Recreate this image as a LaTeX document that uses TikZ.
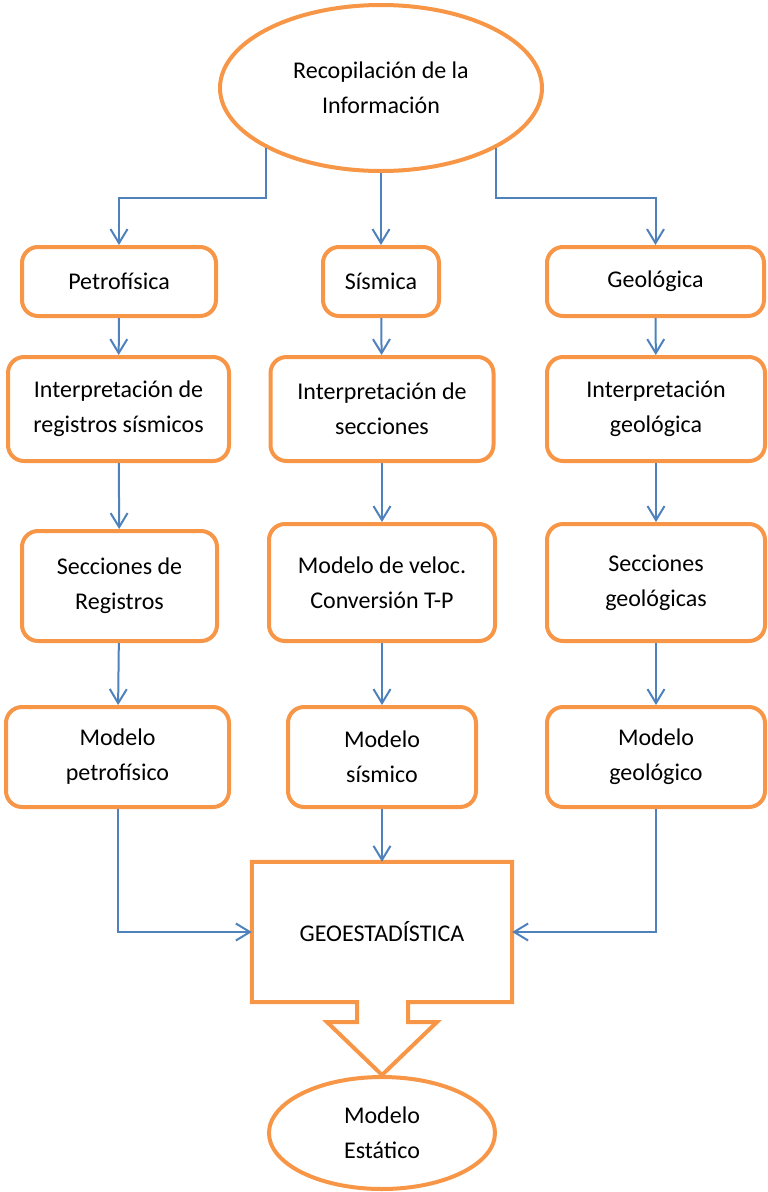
\documentclass[tikz,border=0pt]{standalone}
\usepackage{fontspec}
\setmainfont{Carlito}
\usetikzlibrary{shapes.geometric,arrows.meta}
\definecolor{naranja}{HTML}{F79646}
\definecolor{azul}{HTML}{4F81BD}

\begin{document}
\begin{tikzpicture}[x=1pt,y=-1pt,font=\fontsize{24}{35}\selectfont,
 caja/.style={rectangle,rounded corners=16pt,draw=naranja,line width=4pt,align=center,inner sep=0pt},
 elipse/.style={ellipse,draw=naranja,line width=4pt,align=center,inner sep=0pt},
 flecha/.style={azul,line width=2pt,-{Straight Barb[length=14pt,width=17pt]}}]
\useasboundingbox (0,0) rectangle (768,1192);
\node [elipse,minimum width=322pt,minimum height=166pt] (info) at (381,88) {Recopilación de la\\Información};

\node [caja,minimum width=194pt,minimum height=69pt] (petro) at (119,281.5) {Petrofísica};
\node [caja,minimum width=116pt,minimum height=69pt] (sism) at (381,281.5) {Sísmica};
\node [caja,minimum width=217pt,minimum height=69pt] (geol) at (655.5,281.5) {Geológica};

\node [caja,minimum width=221pt,minimum height=104pt] (intreg) at (118.5,409) {Interpretación de\\registros sísmicos};
\node [caja,minimum width=223pt,minimum height=104pt] (intsec) at (382,409) {Interpretación de\\secciones};
\node [caja,minimum width=218pt,minimum height=104pt] (intgeo) at (656,409) {Interpretación\\geológica};

\node [caja,minimum width=195pt,minimum height=110pt] (secreg) at (119.5,586) {Secciones de\\Registros};
\node [caja,minimum width=226pt,minimum height=117pt] (velo) at (382,582.5) {Modelo de veloc.\\Conversión T-P};
\node [caja,minimum width=218pt,minimum height=117pt] (secgeo) at (656,582.5) {Secciones\\geológicas};

\node [caja,minimum width=223pt,minimum height=100pt] (mpetro) at (117.5,757) {Modelo\\petrofísico};
\node [caja,minimum width=188pt,minimum height=100pt] (msism) at (382,757) {Modelo\\sísmico};
\node [caja,minimum width=218pt,minimum height=100pt] (mgeo) at (656,757) {Modelo\\geológico};

\node [rectangle,minimum width=260pt,minimum height=140pt] (geo) at (382,932) {GEOESTADÍSTICA};
\node [elipse,minimum width=226pt,minimum height=112pt] (estatico) at (382,1133) {Modelo\\Estático};
\draw [naranja,line width=4pt] (geo.north west) -- (geo.north east) -- (geo.south east) -- (408,1002) -- (408,1022) -- (437,1022) -- (estatico.north) -- (327,1022) -- (357,1022) -- (357,1002) -- (geo.south west) -- cycle;

\draw [flecha] (info.south west) -- ++(0,50) -| (petro.north);
\draw [flecha] (info.south) -- (sism.north);
\draw [flecha] (info.south east) -- ++(0,50) -| (geol.north);
\draw [flecha] (petro) -- (intreg);
\draw [flecha] (sism) -- (intsec);
\draw [flecha] (geol) -- (intgeo);
\draw [flecha] (intreg) -- (secreg);
\draw [flecha] (intsec) -- (velo);
\draw [flecha] (intgeo) -- (secgeo);
\draw [flecha] (secreg) -- (mpetro);
\draw [flecha] (velo) -- (msism);
\draw [flecha] (secgeo) -- (mgeo);
\draw [flecha] (mpetro.south) |- (geo.west);
\draw [flecha] (msism.south) -- (geo.north);
\draw [flecha] (mgeo.south) |- (geo.east);
\end{tikzpicture}
\end{document}
